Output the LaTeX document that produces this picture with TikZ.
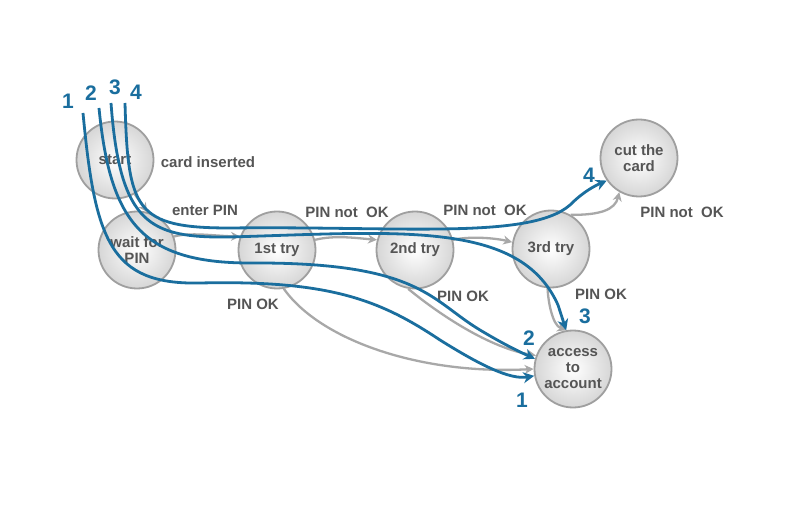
\documentclass[tikz,border=0pt]{standalone}
\usepackage{fontspec}
\setmainfont{Liberation Sans}
\usetikzlibrary{arrows.meta}
\definecolor{bl}{HTML}{1A6E9E}
\definecolor{tx}{HTML}{555555}
\definecolor{gr}{HTML}{A8A8A8}
\begin{document}
\begin{tikzpicture}[x=1pt,y=-1pt,
 st/.style={circle,minimum size=77pt,inner sep=0pt,draw=gray!75,line width=1.8pt,inner color=white,outer color=gray!32,text=tx,font=\bfseries\fontsize{15}{16}\selectfont,align=center},
 lb/.style={text=tx,font=\bfseries\fontsize{15}{16}\selectfont},
 num/.style={text=bl,font=\bfseries\fontsize{21}{21}\selectfont},
 ga/.style={draw=gr,line width=2.3pt,-{Stealth[length=9pt,width=9pt]}},
 ba/.style={draw=bl,line width=2.8pt,-{Stealth[length=11pt,width=11pt]}}]
\useasboundingbox (0,0) rectangle (800,529);
\fill[white] (0,0) rectangle (800,529);
\node[st] (s) at (115,160) {start};
\node[st] (w) at (137,250) {wait for\\PIN};
\node[st] (t1) at (277,250) {1st try};
\node[st] (t2) at (415,250) {2nd try};
\node[st] (t3) at (551,249) {3rd try};
\node[st] (c) at (639,158) {cut the\\card};
\node[st] (a) at (573,369) {access\\to\\account};
\node[lb] (l1) at (208,162) {card inserted};
\node[lb] (l2) at (205,210) {enter PIN};
\node[lb] (l3) at (347,212) {PIN not\ \ OK};
\node[lb] (l4) at (485,210) {PIN not\ \ OK};
\node[lb] (l5) at (682,212) {PIN not\ \ OK};
\node[lb] (l6) at (253,304) {PIN OK};
\node[lb] (l7) at (463,296) {PIN OK};
\node[lb] (l8) at (601,294) {PIN OK};
\draw[ga] (s.-60) -- (w.75);
\draw[ga] (w.20) .. controls (190,232) and (215,236) .. (t1.160);
\draw[ga] (t1.15) .. controls (335,235) and (355,238) .. (t2.165);
\draw[ga] (t2.15) .. controls (470,236) and (495,238) .. (t3.170);
\draw[ga] (t3.60) .. controls (600,215) and (615,210) .. (c.-120);
\draw[ga] (t1.-80) .. controls (320,340) and (420,375) .. (a.180);
\draw[ga] (t2.-100) .. controls (440,315) and (490,348) .. (a.160);
\draw[ga] (t3.-95) .. controls (548,300) and (552,325) .. (a.100);
\coordinate (p1) at (83,113); \coordinate (p2) at (99,108);
\coordinate (p3) at (111,103); \coordinate (p4) at (125,103);
\draw[ba] (p1) .. controls (95,240) and (110,285) .. (200,283) .. controls (330,280) and (380,300) .. (440,340) .. controls (480,365) and (510,380) .. (a.-170);
\draw[ba] (p2) .. controls (110,220) and (140,263) .. (250,263) .. controls (420,262) and (430,300) .. (480,330) .. controls (505,345) and (520,352) .. (a.165);
\draw[ba] (p3) .. controls (120,225) and (150,238) .. (230,237) .. controls (400,232) and (520,220) .. (558,305) -- (a.100);
\draw[ba] (p4) .. controls (128,210) and (135,228) .. (230,228) .. controls (400,226) and (530,240) .. (570,205) .. controls (580,195) and (590,188) .. (c.-145);
\node[num] (n1) at (68,101) {1};
\node[num] (n2) at (91,93) {2};
\node[num] (n3) at (115,87) {3};
\node[num] (n4) at (136,92) {4};
\node[num] (m1) at (522,400) {1};
\node[num] (m2) at (529,338) {2};
\node[num] (m3) at (585,316) {3};
\node[num] (m4) at (589,175) {4};
\end{tikzpicture}
\end{document}
